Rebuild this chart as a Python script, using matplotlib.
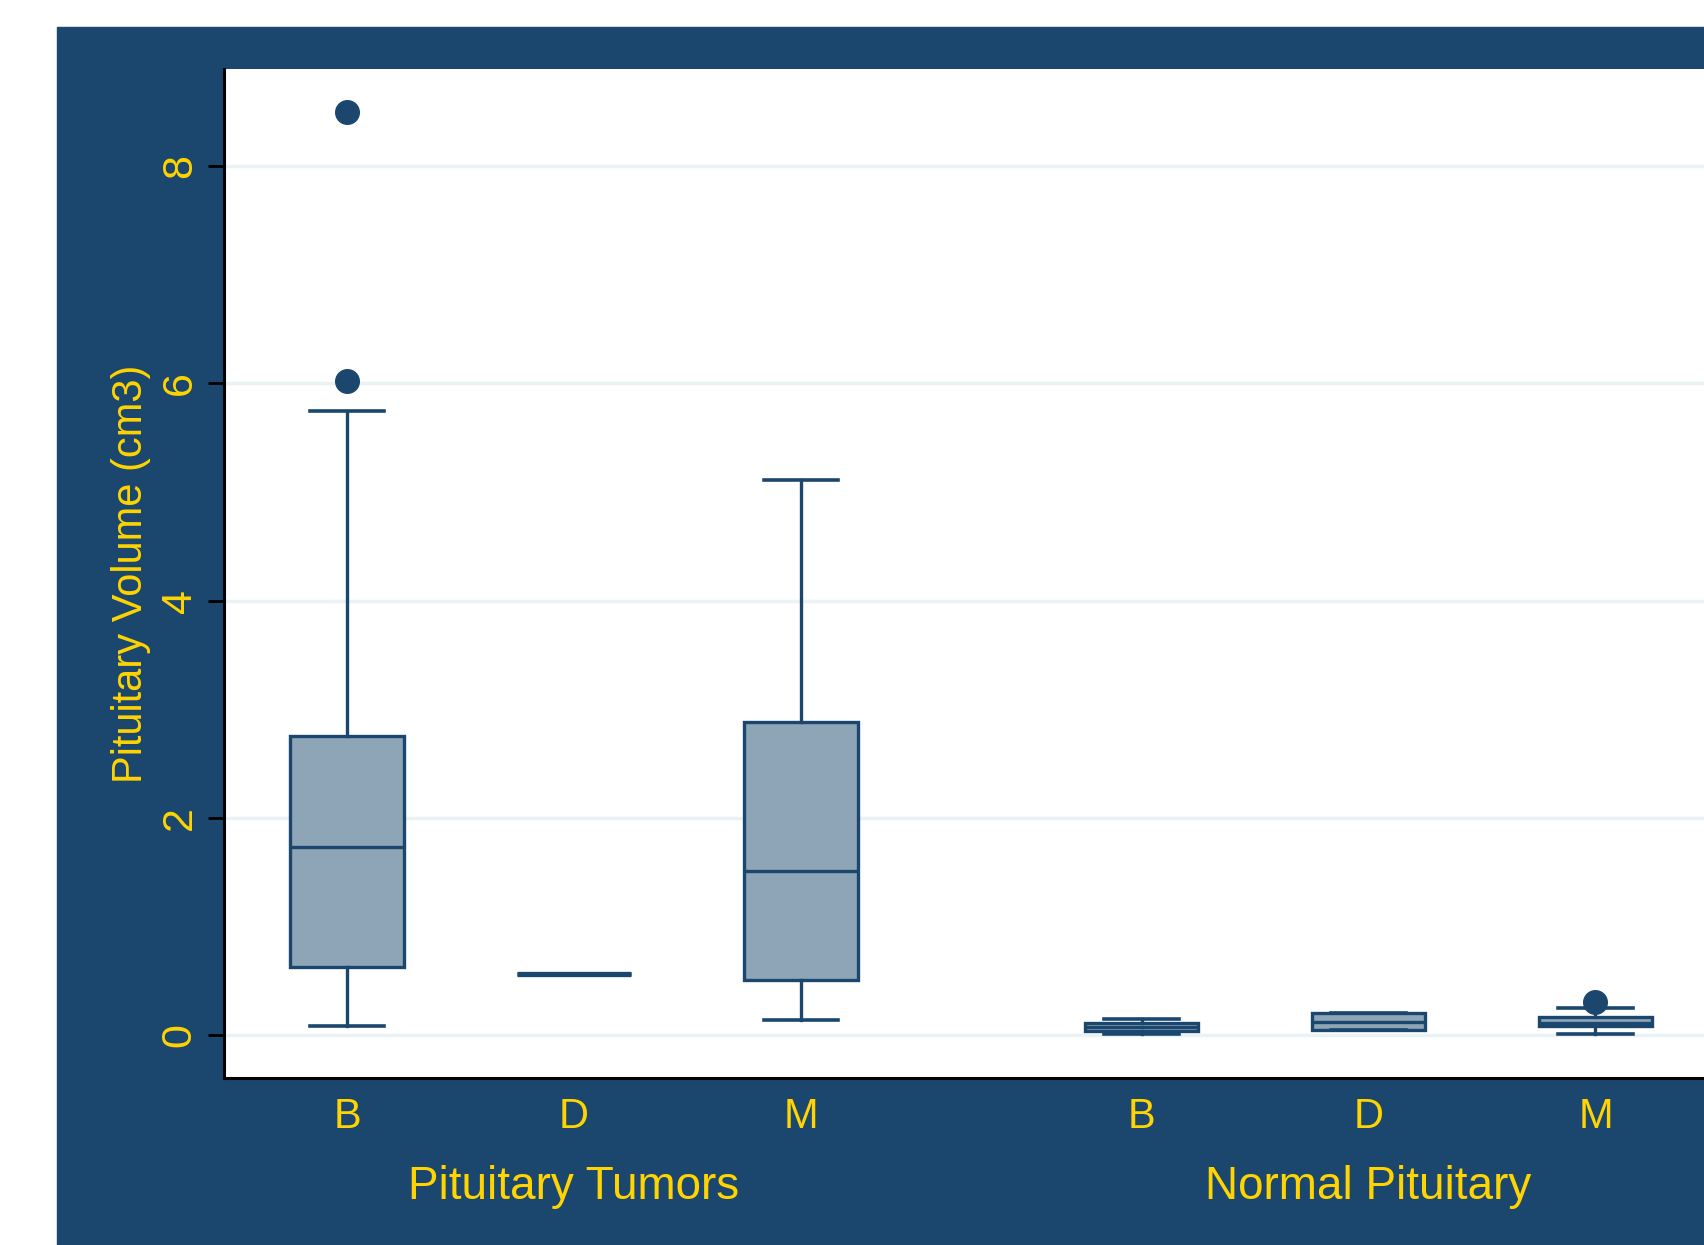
import matplotlib.pyplot as plt
from matplotlib.patches import Rectangle

# box statistics (cm3)
groups = ['Pituitary Tumors', 'Normal Pituitary']
cats = ['B', 'D', 'M', 'B', 'D', 'M']
positions = [1, 2, 3, 4.5, 5.5, 6.5]
q1 = [0.63, 0.56, 0.51, 0.04, 0.05, 0.08]
med = [1.73, 0.56, 1.51, 0.07, 0.12, 0.11]
q3 = [2.75, 0.56, 2.88, 0.11, 0.20, 0.17]
whislo = [0.08, 0.56, 0.14, 0.01, 0.05, 0.01]
whishi = [5.75, 0.56, 5.11, 0.15, 0.20, 0.25]
fliers = [[8.50, 6.02], [], [], [], [], [0.30]]

navy = '#1b476f'
fill = '#8ea4b7'
gold = '#ffd400'

plt.rcParams['font.family'] = ['Liberation Sans', 'DejaVu Sans']

fig = plt.figure(figsize=(17.04, 12.45), dpi=100)
fig.patches.append(Rectangle((57 / 1704, 0), 1, (1245 - 27) / 1245,
                             transform=fig.transFigure, color=navy, zorder=-10))

ax = fig.add_axes([224 / 1704, 167 / 1245, 1 - 224 / 1704, 1009 / 1245])
ax.set_facecolor('white')

stats = []
for i in range(len(cats)):
    stats.append({'q1': q1[i], 'med': med[i], 'q3': q3[i],
                  'whislo': whislo[i], 'whishi': whishi[i], 'fliers': fliers[i]})

bp = ax.bxp(stats, positions=positions, widths=0.5, capwidths=0.33,
            patch_artist=True,
            boxprops=dict(facecolor=fill, edgecolor=navy, linewidth=2.4),
            medianprops=dict(color=navy, linewidth=2.4),
            whiskerprops=dict(color=navy, linewidth=2.4),
            capprops=dict(color=navy, linewidth=2.6),
            flierprops=dict(marker='o', markerfacecolor=navy, markeredgecolor=navy,
                            markersize=17))
# the single-value D group shows as a heavier bar
bp['medians'][1].set_linewidth(3.8)

ax.set_xlim(0.458, 6.978)
ax.set_ylim(-0.396, 8.895)

ax.set_yticks([0, 2, 4, 6, 8])
ax.set_yticklabels(['0', '2', '4', '6', '8'], rotation=90, va='center')
ax.set_xticks(positions)
ax.set_xticklabels(cats)

ax.grid(axis='y', color='#eaf2f3', linewidth=2.5)
ax.set_axisbelow(True)

ax.tick_params(axis='y', length=11.5, width=2, color='black', pad=6,
               labelsize=31, labelcolor=gold)
ax.tick_params(axis='x', length=0, pad=14, labelsize=30, labelcolor=gold)

for s in ['top', 'right']:
    ax.spines[s].set_visible(False)
for s in ['left', 'bottom']:
    ax.spines[s].set_color('black')
    ax.spines[s].set_linewidth(2.2)

ax.set_ylabel('Pituitary Volume (cm3)', fontsize=30, color=gold)
ax.yaxis.set_label_coords(-0.0493, 0.5)

for x, g in zip([2, 5.5], groups):
    ax.text(x, -0.108, g, transform=ax.get_xaxis_transform(), ha='center',
            va='center', fontsize=33, color=gold)

fig.savefig('out.png', dpi=100, facecolor='white')
